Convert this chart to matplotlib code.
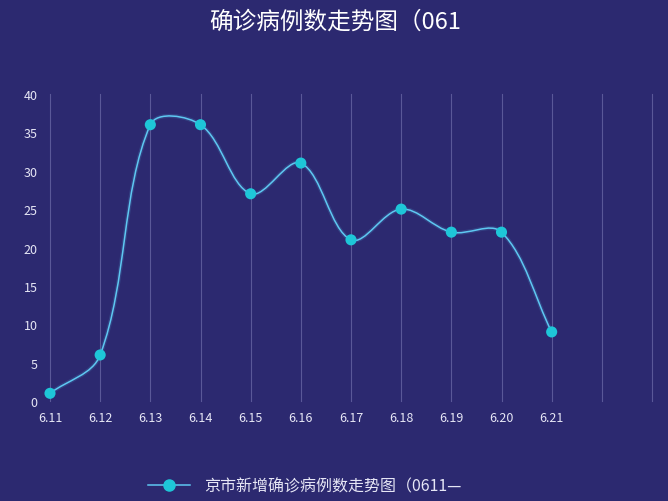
import matplotlib
matplotlib.use('Agg')
import matplotlib.pyplot as plt
import numpy as np
from matplotlib.path import Path
from matplotlib.patches import PathPatch
from matplotlib.lines import Line2D

plt.rcParams['font.family'] = ['Noto Sans CJK SC', 'DejaVu Sans']

dates = ['6.11', '6.12', '6.13', '6.14', '6.15', '6.16', '6.17',
         '6.18', '6.19', '6.20', '6.21', '', '']
cases = [1, 6, 36, 36, 27, 31, 21, 25, 22, 22, 9]
title = '确诊病例数走势图（061'
legend_label = '京市新增确诊病例数走势图（0611—'

bg = '#2c2970'
line_color = '#5ec8f2'
marker_color = '#1ec6d8'
text_color = '#e6e6f5'

fig = plt.figure(figsize=(6.68, 5.02), dpi=100, facecolor=bg)
ax = fig.add_axes([50 / 668, 100 / 502, 602 / 668, 307 / 502])
ax.set_facecolor(bg)

x = np.arange(len(cases))
ax.set_xlim(0, len(dates) - 1)
ax.set_ylim(0, 40)

# vertical grid lines at each category
for xi in range(len(dates)):
    ax.axvline(xi, color='#5a5898', lw=0.8, zorder=1, clip_on=False)


def smooth_path(xs, ys, sx, sy, smooth=0.5):
    # bezier smoothing, control points computed in pixel space
    px = np.asarray(xs, float) * sx
    py = np.asarray(ys, float) * sy
    n = len(px)
    cps = []
    for i in range(n):
        prev = (px[max(i - 1, 0)], py[max(i - 1, 0)])
        nxt = (px[min(i + 1, n - 1)], py[min(i + 1, n - 1)])
        vx, vy = (nxt[0] - prev[0]) * smooth, (nxt[1] - prev[1]) * smooth
        d0 = np.hypot(px[i] - prev[0], py[i] - prev[1])
        d1 = np.hypot(px[i] - nxt[0], py[i] - nxt[1])
        tot = d0 + d1 if d0 + d1 > 0 else 1
        c0 = (px[i] - vx * d0 / tot, py[i] - vy * d0 / tot)
        c1 = (px[i] + vx * d1 / tot, py[i] + vy * d1 / tot)
        cps.append((c0, c1))
    verts = [(px[0], py[0])]
    codes = [Path.MOVETO]
    for i in range(n - 1):
        verts += [cps[i][1], cps[i + 1][0], (px[i + 1], py[i + 1])]
        codes += [Path.CURVE4] * 3
    verts = [(vx_ / sx, vy_ / sy) for vx_, vy_ in verts]
    return Path(verts, codes)


path = smooth_path(x, cases, 50.2, 7.675, smooth=0.35)
ax.add_patch(PathPatch(path, facecolor='none', edgecolor=line_color,
                       lw=3.0, alpha=0.15, zorder=2))
ax.add_patch(PathPatch(path, facecolor='none', edgecolor=line_color,
                       lw=1.1, zorder=3))
ax.scatter(x, cases, s=64, color=marker_color, zorder=4, clip_on=False,
           edgecolors='none')

ax.set_xticks(np.arange(len(dates)))
ax.set_xticklabels(dates)
ax.set_yticks(np.arange(0, 41, 5))
ax.tick_params(axis='both', length=0, colors=text_color, labelsize=9)
ax.tick_params(axis='x', pad=7)
ax.tick_params(axis='y', pad=9)
for s in ax.spines.values():
    s.set_visible(False)

fig.text(335 / 668, 1 - 22 / 502, title, color='white', fontsize=17,
         ha='center', va='center')

handle = Line2D([], [], color=line_color, lw=1.1, marker='o',
                markersize=8, markerfacecolor=marker_color,
                markeredgecolor=marker_color)
fig.legend([handle], [legend_label], loc='center',
           bbox_to_anchor=(305 / 668, 1 - 487 / 502), frameon=False,
           labelcolor=text_color, fontsize=11.5, handlelength=2.6,
           handletextpad=0.9)

fig.savefig('out.png', dpi=100, facecolor=bg)
